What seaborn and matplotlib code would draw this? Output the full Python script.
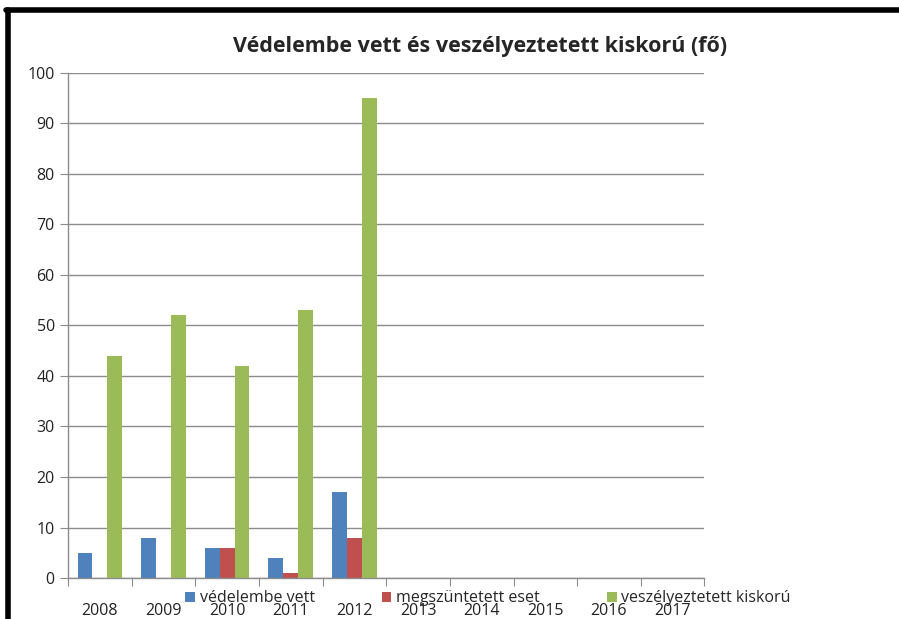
import matplotlib.pyplot as plt
import seaborn as sns
import pandas as pd
from matplotlib.lines import Line2D

# Adatok
evek = ["2008", "2009", "2010", "2011", "2012", "2013", "2014", "2015", "2016", "2017"]
vedelembe_vett = [5, 8, 6, 4, 17, 0, 0, 0, 0, 0]
megszuntetett_eset = [0, 0, 6, 1, 8, 0, 0, 0, 0, 0]
veszelyeztetett = [44, 52, 42, 53, 95, 0, 0, 0, 0, 0]
sorozatok = ["védelembe vett", "megszüntetett eset", "veszélyeztetett kiskorú"]
szinek = ["#4F81BD", "#C0504D", "#9BBB59"]

df = pd.DataFrame({
    "ev": evek * 3,
    "ertek": vedelembe_vett + megszuntetett_eset + veszelyeztetett,
    "sorozat": [sorozatok[0]] * 10 + [sorozatok[1]] * 10 + [sorozatok[2]] * 10,
})

sns.set_style("white")
plt.rcParams["font.family"] = ["Open Sans", "DejaVu Sans"]

fig = plt.figure(figsize=(8.99, 6.19), dpi=100)
ax = fig.add_axes([0.0756, 0.0662, 0.708, 0.816])

sns.barplot(data=df, x="ev", y="ertek", hue="sorozat", palette=szinek,
            width=0.7, gap=0, ax=ax, saturation=1, legend=True,
            edgecolor="none", linewidth=0)

ax.set_ylim(0, 100)
ax.set_yticks(range(0, 101, 10))
ax.set_xlim(-0.5, 9.5)
ax.yaxis.grid(True, color="#8c8c8c", linewidth=1)
ax.set_axisbelow(True)
ax.set_xlabel("")
ax.set_ylabel("")

for s in ["top", "right"]:
    ax.spines[s].set_visible(False)
for s in ["left", "bottom"]:
    ax.spines[s].set_color("#8c8c8c")
    ax.spines[s].set_linewidth(1)

# x tick marks at category boundaries, labels in middle
ax.set_xticks([i - 0.5 for i in range(11)], minor=False)
ax.set_xticklabels([])
ax.set_xticks(range(10), minor=True)
ax.set_xticklabels(evek, minor=True)
ax.tick_params(axis="x", which="major", length=6, color="#8c8c8c", direction="out", bottom=True)
ax.tick_params(axis="x", which="minor", length=0, labelsize=11.5, pad=18, colors="#222222")
ax.tick_params(axis="y", length=6, color="#8c8c8c", direction="out", left=True,
               labelsize=11.5, labelcolor="#222222")

ax.legend(loc="center", bbox_to_anchor=(0.66, -0.04), ncol=3, frameon=False,
          fontsize=11.5, handlelength=0.6, handleheight=0.6, handletextpad=0.3,
          columnspacing=4.2, borderpad=0)

ax.set_title("Védelembe vett és veszélyeztetett kiskorú (fő)", fontsize=15.5,
             fontweight="bold", pad=15, x=0.647)

# keret (bal és felső él)
fig.add_artist(Line2D([8 / 899, 8 / 899], [0, 1 - 10 / 619], transform=fig.transFigure,
                      color="black", linewidth=4))
fig.add_artist(Line2D([6 / 899, 1], [1 - 10 / 619, 1 - 10 / 619], transform=fig.transFigure,
                      color="black", linewidth=4))

plt.savefig("out.png", dpi=100)
